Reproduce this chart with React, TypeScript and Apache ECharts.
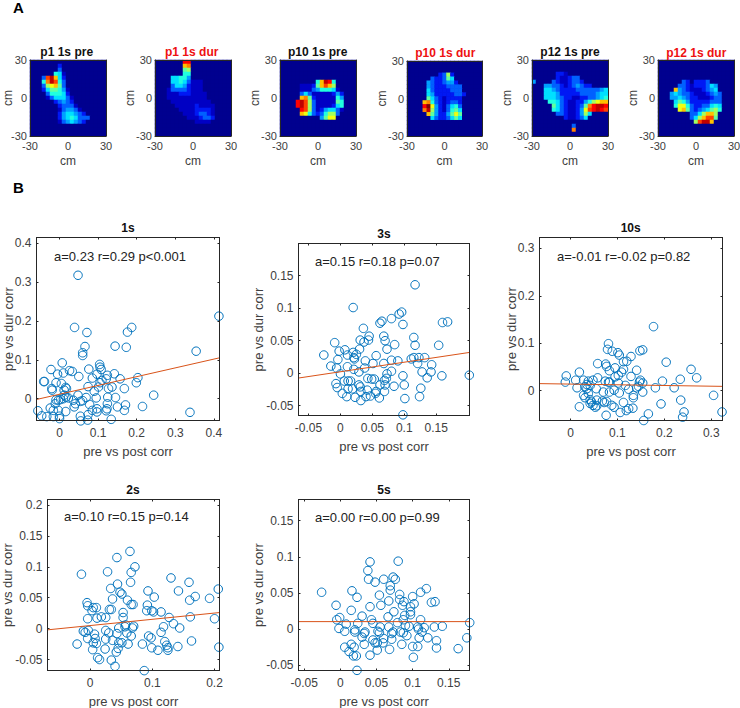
import React, { useEffect, useRef } from "react";
import * as echarts from "echarts";

const FONT = "'Liberation Sans', Arial, sans-serif";

// Heat maps: one hex digit per cell (0 = background, f = hottest), rows from y=+30 downward.
const heatP1Pre = ["", "00000002", "00000003", "0000006510", "0003cea52", "0006bec63", "000389a73", "0002577641", "0000366652", "00001355531", "00000023432", "000000023331", "0000000134431", "00000002455432", "000000024565333", "00000001345432"];
const heatP1Dur = ["0000000dd", "0000000ab", "000000078", "000000066", "0000556640", "000055653111", "000035542111", "000133332111", "0001112221111", "0001111111111", "00001111111111", "000001111121111", "0000001111222210", "000000011123321", "000000001112332", "00000000001111"];
const heatP10Pre = ["", "", "", "", "", "0000000006aed6", "0000011127aca8", "000001113466651", "0000035311111242", "00000ab721111164", "0000dec831111176", "0000dec831111256", "00000dc831245531", "00000a963236883", "00000000004799"];
const heatP10Dur = ["", "", "", "000000002382", "000000322375", "0000043223442", "00000432223333", "00000532222333", "000005422222332", "00000753212222", "0000ab63212332", "0000df94213563", "0000be84213675", "00000a74224797", "00000053223575"];
const heatP12Pre = ["", "", "", "000000221", "000000211233", "4000032112332", "000443321234322", "0005543222233333345", "0005554222223333455", "0005554322112233456", "00006653211224689aa", "00000753211237bdeed", "00000653211249cdedc", "000000332112485", "00000000211235", "", "00000000003", "0000000000b"];
const heatP12Dur = ["", "", "", "", "", "0000003202223", "000003321222354", "0000a4321112345", "0004543321112343", "0004454322111233", "0000576422222333", "0000699632233565", "000009a732345786", "000000003358aa8", "00000000358acc7", "0000000008ceea"];

const heatTitles = ["p1 1s pre", "p1 1s dur", "p10 1s pre", "p10 1s dur", "p12 1s pre", "p12 1s dur"];
const jetColors = ["#00008f", "#0000c4", "#0018f4", "#0060ff", "#00a0ff", "#00e0ff", "#20ffe0", "#60ffa0", "#a0ff60", "#f0ff10", "#ffc000", "#ff8000", "#ff4000", "#ff0000", "#c00000", "#800000"];
const heatTicks = [-30, 0, 30];

// Scatter panels: [pre vs post corr, pre vs dur corr]
const points1s = [[.048,.317],[.413,.212],[.354,.122],[.187,.183],[.176,.171],[.071,.170],[.039,.183],[.066,.134],[.060,.118],[.060,.111],[.144,.135],[.173,.132],[.007,.092],[.104,.088],[.105,.081],[.108,.075],[-.022,.075],[.076,.076],[-.005,.063],[.010,.066],[.026,.072],[.033,.070],[.142,.064],[.050,.057],[.124,.060],[.097,.063],[-.041,.044],[-.039,.044],[.157,.051],[.203,.054],[.199,.041],[.085,.053],[-.009,.041],[.005,.039],[.110,.047],[.105,.041],[.121,.051],[.074,.031],[-.019,.022],[-.020,.026],[.016,.029],[.018,.026],[.012,.022],[.168,.026],[.127,.026],[.136,.030],[.090,.019],[.101,.030],[.244,.009],[.048,.009],[.145,.003],[.125,.004],[.095,.002],[.069,.003],[.060,-.005],[-.009,-.003],[-.003,-.004],[.003,-.002],[.010,0],[.017,.004],[.023,.002],[.012,.009],[.036,-.004],[.054,-.007],[.041,-.013],[.038,-.021],[-.024,-.024],[-.011,-.013],[-.016,-.030],[-.003,-.030],[.016,-.033],[.124,-.013],[.123,-.026],[.121,-.031],[.150,-.021],[.171,-.016],[.168,-.030],[.215,-.020],[.338,-.035],[.078,-.015],[.085,-.030],[.097,-.026],[.097,-.034],[.074,-.041],[.054,-.045],[.055,-.057],[.073,-.055],[.134,-.053],[-.056,-.031],[-.046,-.044],[-.033,-.046],[-.016,-.046],[0,-.045],[0,-.051]];
const points3s = [[.117,.136],[.020,.101],[.096,.094],[.092,.091],[.080,.084],[.065,.080],[.062,.077],[.098,.075],[.160,.078],[.168,.079],[.036,.069],[.045,.057],[.044,.051],[.031,.051],[.037,.048],[.068,.057],[.070,.050],[.115,.055],[-.009,.047],[.085,.044],[.117,.043],[.154,.043],[.073,.037],[.030,.037],[-.002,.034],[.007,.036],[-.026,.028],[.020,.032],[.025,.029],[.011,.028],[.056,.027],[-.004,.021],[.022,.022],[.021,.024],[.111,.022],[.115,.024],[.123,.024],[.132,.024],[.039,.019],[.051,.015],[.068,.015],[.080,.020],[.090,.019],[.121,.015],[.143,.013],[-.015,.011],[-.006,.008],[.011,.010],[.021,.006],[.038,.008],[.029,.002],[0,-.001],[.080,.003],[.073,-.001],[.128,.002],[.142,.002],[.136,-.007],[.159,-.004],[.202,-.003],[.098,-.004],[.100,-.018],[.084,-.020],[.072,-.008],[.069,-.011],[.043,-.008],[.049,-.009],[.053,-.009],[-.007,-.016],[-.005,-.022],[.006,-.012],[.012,-.012],[.016,-.012],[.012,-.024],[.019,-.024],[.003,-.031],[.010,-.036],[.023,-.037],[.031,-.021],[.029,-.018],[.032,-.028],[.032,-.042],[.042,-.026],[.040,-.036],[.047,-.035],[.055,-.031],[.056,-.028],[.061,-.038],[.069,-.028],[.062,-.018],[.070,-.018],[.126,-.023],[.124,-.036],[.101,-.039],[.098,-.064]];
const points10s = [[.177,.135],[.081,.099],[.204,.060],[.079,.087],[.089,.083],[.101,.080],[.104,.075],[.154,.086],[.148,.084],[.129,.072],[.058,.057],[.075,.056],[.077,.051],[.083,.042],[.095,.048],[.113,.061],[.120,.062],[.257,.045],[.269,.027],[.141,.043],[-.009,.031],[.019,.039],[-.011,.018],[.011,.022],[.048,.022],[.028,.022],[.038,.020],[.058,.027],[.074,.020],[.083,.018],[.095,.029],[.109,.039],[.113,.045],[.102,.032],[.129,.030],[.149,.022],[.147,.018],[.234,.024],[.196,.020],[.181,.006],[.221,.006],[.154,.016],[.014,.006],[.035,.013],[.042,.011],[.031,.008],[.055,.004],[.035,.004],[.124,.003],[.141,.006],[.145,.009],[.102,.016],[.117,.011],[.081,.018],[.070,-.003],[.083,-.003],[.093,.001],[.104,-.005],[.154,-.003],[.134,-.010],[.134,-.015],[.235,-.020],[.305,-.010],[.028,-.010],[.031,-.015],[.038,-.006],[.042,-.019],[.045,-.024],[.019,-.034],[.053,-.035],[.056,-.032],[.068,-.022],[.072,-.025],[.093,-.035],[.088,-.031],[.113,-.025],[.124,-.038],[.119,-.042],[.133,-.037],[.193,-.028],[.106,-.046],[.076,-.052],[.166,-.049],[.156,-.063],[.242,-.045],[.239,-.056],[.323,-.045],[.042,-.027],[.048,-.031],[.056,-.020],[.077,-.023]];
const points2s = [[.064,.125],[.043,.115],[.028,.092],[.066,.091],[.072,.100],[-.014,.088],[.065,.075],[.130,.082],[.159,.075],[.044,.072],[.033,.065],[.048,.059],[.051,.056],[.093,.061],[.142,.061],[.206,.064],[.036,.048],[.060,.046],[.103,.051],[.169,.052],[.192,.049],[.160,.046],[-.005,.042],[-.004,.037],[.066,.039],[.069,.039],[.092,.038],[.005,.034],[.010,.034],[.003,.029],[.031,.031],[.034,.031],[.053,.026],[.091,.029],[.099,.029],[.102,.027],[.114,.027],[-.004,.016],[.011,.017],[.018,.019],[.025,.018],[.053,.018],[.127,.018],[.161,.019],[.200,.016],[.134,.008],[.118,.003],[.144,.001],[.057,.006],[.070,.004],[.056,.003],[.068,.001],[.046,.001],[.025,-.003],[.030,-.007],[-.011,-.004],[-.008,-.006],[-.003,-.003],[.007,-.009],[.043,-.008],[.059,-.007],[.066,-.012],[.114,-.006],[.094,-.012],[.098,-.015],[-.004,-.016],[.008,-.016],[.025,-.017],[.036,-.019],[.120,-.021],[.163,-.020],[-.021,-.025],[.005,-.023],[.010,-.024],[.046,-.023],[.051,-.023],[.061,-.025],[.084,-.025],[.123,-.027],[.125,-.031],[.141,-.029],[.099,-.031],[.109,-.035],[.125,-.035],[.207,-.030],[.004,-.034],[.024,-.033],[.045,-.032],[.042,-.038],[.012,-.047],[.015,-.050],[.034,-.051],[.040,-.061],[.087,-.068]];
const points5s = [[.041,.093],[.080,.094],[.038,.081],[.039,.069],[.060,.069],[.073,.072],[.076,.069],[.048,.065],[.069,.060],[.069,.054],[-.026,.051],[.016,.053],[.023,.044],[.054,.047],[.119,.056],[.111,.051],[.082,.048],[.100,.045],[.082,.041],[.067,.039],[.088,.038],[.126,.037],[.131,.038],[.102,.035],[.056,.033],[-.006,.033],[.041,.031],[.086,.033],[.097,.031],[.015,.026],[.074,.024],[.097,.024],[.097,.020],[.030,.018],[-.001,.016],[-.005,.013],[.043,.013],[.066,.017],[.089,.019],[.087,.013],[.111,.013],[.179,.009],[.045,.008],[.008,.007],[.024,.008],[.079,.009],[.095,.004],[.055,.003],[.067,.003],[.090,.005],[.107,.003],[.116,.002],[.130,.003],[.141,.004],[-.002,.001],[.006,-.003],[.020,-.001],[.020,-.004],[.034,-.004],[.033,-.006],[.052,-.003],[.054,-.005],[.073,-.004],[.071,-.006],[.083,-.004],[.087,-.005],[.092,-.009],[.113,-.004],[.108,0],[.060,-.013],[.071,-.014],[.030,-.011],[.121,-.012],[.109,-.012],[.175,-.012],[.133,-.016],[.045,-.015],[.048,-.019],[.033,-.021],[.059,-.019],[.051,-.019],[.085,-.021],[.015,-.021],[.006,-.025],[.019,-.025],[.012,-.031],[.100,-.024],[.107,-.024],[.133,-.026],[.163,-.027],[.068,-.028],[.051,-.029],[.018,-.037],[.022,-.037],[.041,-.036],[.101,-.039],[.023,-.057]];

// Fitted lines: value of pre vs dur corr at the left and right axis limits
const fitEnds1s = [-.002, .105];
const fitEnds3s = [-.0074, .032];
const fitEnds10s = [.0148, .009];
const fitEnds2s = [-.002, .026];
const fitEnds5s = [.0104, .0104];

const xRange1s = [-.0596, .4145], yRange1s = [-.056, .414];
const xRange3s = [-.0657, .2023], yRange3s = [-.065, .1995];
const xRange10s = [-.066, .324], yRange10s = [-.063, .323];
const xRange2s = [-.0686, .208], yRange2s = [-.0678, .209];
const xRange5s = [-.058, .1787], yRange5s = [-.0572, .1793];

const xTicks1s = [0, .1, .2, .3, .4], yTicks1s = [0, .1, .2, .3, .4];
const xTicks3s = [-.05, 0, .05, .1, .15], yTicks3s = [-.05, 0, .05, .1, .15];
const xTicks10s = [0, .1, .2, .3], yTicks10s = [0, .1, .2, .3];
const xTicks2s = [0, .1, .2], yTicks2s = [-.05, 0, .05, .1, .15, .2];
const xTicks5s = [-.05, 0, .05, .1, .15], yTicks5s = [-.05, 0, .05, .1, .15];

const scatterTitles = ["1s", "3s", "10s", "2s", "5s"];
const scatterNotes = ["a=0.23 r=0.29 p<0.001", "a=0.15 r=0.18 p=0.07", "a=-0.01 r=-0.02 p=0.82", "a=0.10 r=0.15 p=0.14", "a=0.00 r=0.00 p=0.99"];

// Layout, in page pixels
const heatBoxes = [[30, 60, 76, 76], [155, 60, 76, 76], [280, 60, 76, 76], [407, 61, 75, 75], [532, 60, 76, 76], [658, 60, 76, 76]];
const heatYNameGap = [16, 19, 19, 19, 19, 19];
const heatTitleAt = [[66.7, 52], [191.7, 52], [317.7, 52], [445.3, 53], [570, 52], [696.3, 52.7]];
const scatterBoxes = [[36.5, 237.5, 183, 183], [298.5, 243.5, 171, 172], [539.5, 237.5, 183, 183], [47.5, 499.5, 172, 171], [298.5, 499.5, 171, 171]];
const scatterTitleAt = [[128, 228], [384, 234], [630.7, 228], [133, 490], [384, 490]];
const scatterNoteAt = [[54, 256.7], [315, 261.7], [557, 256.7], [64, 516.7], [315, 517.3]];
const scatterYNameGap = [22, 34, 22, 34, 34];

const BOX = "#262626";
const TICK_TEXT = "#404040";

function buildOption() {
  const grid: any[] = [], xAxis: any[] = [], yAxis: any[] = [], series: any[] = [], graphic: any[] = [];
  const text = (t: string, x: number, y: number, size: number, weight: string, fill: string, align = "center") => ({
    type: "text", x, y, z: 20, style: { text: t, fontFamily: FONT, fontSize: size, fontWeight: weight, fill, align, verticalAlign: "middle" },
  });
  const lineStyle = { color: BOX, width: 1 };
  const valueAxis = (g: number, pos: string, range: number[], ticks: number[], labelSize: number, labelMargin: number, name: string, nameGap: number, tickLen: number, shown: boolean) => ({
    type: "value", gridIndex: g, position: pos, min: range[0], max: range[1], z: 10,
    axisLine: { show: true, onZero: false, lineStyle },
    axisTick: { show: true, inside: true, length: tickLen, customValues: ticks, lineStyle },
    axisLabel: shown ? { show: true, customValues: ticks, color: TICK_TEXT, fontFamily: FONT, fontSize: labelSize, margin: labelMargin } : { show: false },
    splitLine: { show: false },
    name: shown ? name : "",
    nameLocation: "middle", nameGap, nameMoveOverlap: false,
    nameTextStyle: { color: TICK_TEXT, fontFamily: FONT, fontSize: labelSize + 1 },
  });

  const heats = [heatP1Pre, heatP1Dur, heatP10Pre, heatP10Dur, heatP12Pre, heatP12Dur];
  const cells = Array.from({ length: 19 }, (_, i) => String(i));
  heats.forEach((rows, h) => {
    const [left, top, width, height] = heatBoxes[h];
    grid.push({ left, top, width, height, outerBoundsMode: "none", show: true, backgroundColor: "#00008f", borderWidth: 0 });
    const xi = xAxis.length, yi = yAxis.length;
    xAxis.push({ type: "category", gridIndex: h, data: cells, show: false });
    yAxis.push({ type: "category", gridIndex: h, data: cells, show: false, inverse: true });
    xAxis.push(valueAxis(h, "bottom", [-30, 30], heatTicks, 11, 4, "cm", 19, 0, true));
    yAxis.push(valueAxis(h, "left", [-30, 30], heatTicks, 11, 3, "cm", heatYNameGap[h], 0, true));
    xAxis.push(valueAxis(h, "top", [-30, 30], heatTicks, 11, 4, "", 0, 0, false));
    yAxis.push(valueAxis(h, "right", [-30, 30], heatTicks, 11, 3, "", 0, 0, false));
    const data: number[][] = [];
    for (let r = 0; r < 19; r++) {
      const row = (rows[r] || "").padEnd(19, "0");
      for (let c = 0; c < 19; c++) data.push([c, r, parseInt(row[c], 16)]);
    }
    series.push({ type: "heatmap", xAxisIndex: xi, yAxisIndex: yi, data, z: 1 });
    graphic.push(text(heatTitles[h], heatTitleAt[h][0], heatTitleAt[h][1], 12, "bold", h % 2 ? "#ee1111" : "#111111"));
  });

  const sets = [
    [points1s, fitEnds1s, xRange1s, yRange1s, xTicks1s, yTicks1s],
    [points3s, fitEnds3s, xRange3s, yRange3s, xTicks3s, yTicks3s],
    [points10s, fitEnds10s, xRange10s, yRange10s, xTicks10s, yTicks10s],
    [points2s, fitEnds2s, xRange2s, yRange2s, xTicks2s, yTicks2s],
    [points5s, fitEnds5s, xRange5s, yRange5s, xTicks5s, yTicks5s],
  ] as any[];
  sets.forEach(([pts, fit, xr, yr, xt, yt], s) => {
    const g = heats.length + s;
    const [left, top, width, height] = scatterBoxes[s];
    grid.push({ left, top, width, height, outerBoundsMode: "none" });
    const xi = xAxis.length, yi = yAxis.length;
    xAxis.push(valueAxis(g, "bottom", xr, xt, 12, 6, "pre vs post corr", 24, 2, true));
    yAxis.push(valueAxis(g, "left", yr, yt, 12, 5, "pre vs dur corr", scatterYNameGap[s], 2, true));
    xAxis.push(valueAxis(g, "top", xr, xt, 12, 6, "", 0, 2, false));
    yAxis.push(valueAxis(g, "right", yr, yt, 12, 5, "", 0, 2, false));
    series.push({
      type: "scatter", xAxisIndex: xi, yAxisIndex: yi, data: pts, clip: false, symbol: "circle", symbolSize: 8.5, z: 3,
      itemStyle: { color: "rgba(0,0,0,0)", borderColor: "#0072BD", borderWidth: 1, opacity: 1 },
    });
    series.push({
      type: "line", xAxisIndex: xi, yAxisIndex: yi, showSymbol: false, silent: true, z: 4, clip: true,
      data: [[xr[0], fit[0]], [xr[1], fit[1]]], lineStyle: { color: "#D95319", width: 1 },
    });
    graphic.push(text(scatterTitles[s], scatterTitleAt[s][0], scatterTitleAt[s][1], 12, "bold", "#111111"));
    graphic.push(text(scatterNotes[s], scatterNoteAt[s][0], scatterNoteAt[s][1], 13, "normal", "#222222", "left"));
  });

  graphic.push(text("A", 18.5, 7, 15, "bold", "#000000"));
  graphic.push(text("B", 18.5, 187, 15, "bold", "#000000"));

  return {
    animation: false,
    backgroundColor: "#ffffff",
    grid, xAxis, yAxis, series, graphic,
    visualMap: {
      type: "continuous", show: false, min: 0, max: 15, dimension: 2,
      seriesIndex: [0, 1, 2, 3, 4, 5], inRange: { color: jetColors },
    },
  };
}

export default function App() {
  const ref = useRef<HTMLDivElement>(null);
  useEffect(() => {
    const chart = echarts.init(ref.current!, null, { renderer: "svg" });
    chart.setOption(buildOption() as any);
    return () => chart.dispose();
  }, []);
  return <div ref={ref} style={{ position: "absolute", left: 0, top: 0, width: 740, height: 708 }} />;
}
